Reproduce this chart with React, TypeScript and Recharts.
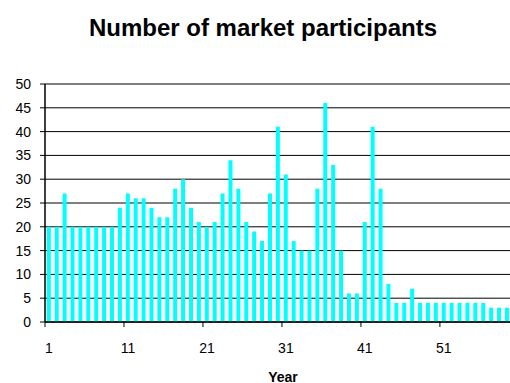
import { BarChart, Bar, XAxis, YAxis, CartesianGrid } from 'recharts';

// Yearly count of market participants, one bar per year.
const YEARS = [
  1, 2, 3, 4, 5, 6, 7, 8, 9, 10,
  11, 12, 13, 14, 15, 16, 17, 18, 19, 20,
  21, 22, 23, 24, 25, 26, 27, 28, 29, 30,
  31, 32, 33, 34, 35, 36, 37, 38, 39, 40,
  41, 42, 43, 44, 45, 46, 47, 48, 49, 50,
  51, 52, 53, 54, 55, 56, 57, 58, 59,
];
const PARTICIPANTS = [
  20, 20, 27, 20, 20, 20, 20, 20, 20, 24,
  27, 26, 26, 24, 22, 22, 28, 30, 24, 21,
  20, 21, 27, 34, 28, 21, 19, 17, 27, 41,
  31, 17, 15, 15, 28, 46, 33, 15, 6, 6,
  21, 41, 28, 8, 4, 4, 7, 4, 4, 4,
  4, 4, 4, 4, 4, 4, 3, 3, 3,
];
const Y_TICKS = [0, 5, 10, 15, 20, 25, 30, 35, 40, 45, 50];

const data = YEARS.map((year, i) => ({ year, value: PARTICIPANTS[i] }));

const FONT = '"Liberation Sans", Arial, sans-serif';

// Tick marks sit between categories, labels stay centred under the year.
function YearTick(props: any) {
  const { x, y, payload } = props;
  const half = payload && payload.offset ? payload.offset : 3.95;
  return (
    <g>
      <line x1={x - half} x2={x - half} y1={y - 5} y2={y} stroke="#000" strokeWidth={1} />
      <text x={x} y={y + 26} textAnchor="middle" fill="#000" fontSize={14} fontFamily={FONT}>
        {payload.value}
      </text>
    </g>
  );
}

export default function App() {
  return (
    <div style={{ position: 'absolute', left: 0, top: 0, width: 510, height: 383, overflow: 'hidden', background: '#fff' }}>
      <div
        style={{
          position: 'absolute', left: 263, top: 16, transform: 'translateX(-50%)', whiteSpace: 'nowrap',
          fontFamily: FONT, fontWeight: 'bold', fontSize: 24, lineHeight: '24px', color: '#000',
        }}
      >
        Number of market participants
      </div>
      <BarChart width={512} height={383} data={data} margin={{ top: 84, right: 1, bottom: 0, left: 0 }} barCategoryGap="23%">
        <CartesianGrid vertical={false} stroke="#000" />
        <XAxis
          dataKey="year"
          interval={9}
          height={61}
          tickSize={5}
          tickMargin={0}
          tickLine={false}
          axisLine={{ stroke: '#000', strokeWidth: 1.5 }}
          tick={<YearTick />}
          label={{ value: 'Year', position: 'insideBottom', offset: 1.5, dx: 5, fill: '#000', fontSize: 14, fontWeight: 'bold', fontFamily: FONT }}
        />
        <YAxis
          width={45}
          domain={[0, 50]}
          ticks={Y_TICKS}
          interval={0}
          tickSize={5}
          tickMargin={9}
          tickLine={{ stroke: '#000' }}
          axisLine={{ stroke: '#000', strokeWidth: 1.5 }}
          tick={{ fill: '#000', fontSize: 14, fontFamily: FONT }}
        />
        <Bar dataKey="value" fill="#00FFFF" isAnimationActive={false} />
      </BarChart>
    </div>
  );
}
